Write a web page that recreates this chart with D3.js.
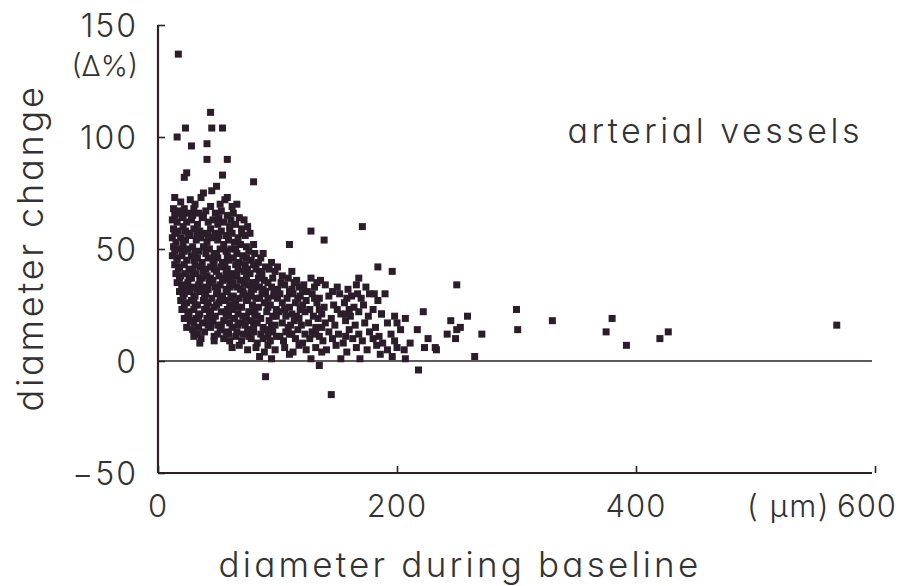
<!DOCTYPE html>
<html>
<head>
<meta charset="utf-8">
<script src="https://cdn.jsdelivr.net/npm/d3@7"></script>
<style>
  body { margin: 0; background: #fff; }
  svg text {
    font-family: Inter, "DejaVu Sans", sans-serif;
    font-feature-settings: "cv11";
    font-weight: 300;
    fill: #333;
  }
</style>
</head>
<body>
<svg id="chart" width="904" height="586"></svg>
<script>
// tick values
const xTicks = [0, 200, 400, 600];
const yTicks = [150, 100, 50, 0, -50];

// points: [baseline diameter (um), diameter change (%)]
const outliers = [
  [17,137],[44,111],[23,104],[45,104],[54,104],[16,100],[28,96],[41,97],[41,90],[58,90],
  [22,82],[24,84],[54,83],[80,80],[38,75],[45,76],[49,78],[58,73]
];

const cluster = [
  [14,73],[19,71],[27,72],[31,70],[36,73],[52,70],[56,72],[62,69],[66,70],
  [13,68],[15,66],[18,67],[22,68],[26,66],[30,68],[34,66],[40,67],[44,69],[48,66],[53,67],[58,65],[63,66],[68,64],[72,63],
  [12,63],[16,62],[20,64],[24,62],[28,63],[33,61],[37,64],[42,62],[46,63],[50,61],[55,62],[60,60],[65,61],[70,59],[75,60],
  [13,59],[17,58],[21,60],[25,57],[30,59],[35,58],[39,57],[44,59],[48,57],[53,58],[57,56],[62,57],[67,55],[73,56],[77,57],
  [12,55],[15,53],[19,55],[23,54],[27,56],[32,54],[36,55],[41,53],[45,55],[50,54],[55,52],[59,54],[64,53],[69,52],[74,51],[80,52],
  [13,51],[17,50],[21,52],[25,50],[29,51],[34,49],[38,51],[43,50],[47,48],[52,50],[57,49],[61,50],[66,48],[71,47],[76,49],[81,48],[86,46],
  [12,47],[16,46],[20,47],[24,45],[28,47],[33,46],[37,44],[42,46],[46,45],[50,46],[54,44],[59,45],[63,46],[68,44],[73,43],[78,45],[84,44],[90,42],
  [14,43],[18,42],[22,43],[26,41],[31,43],[35,42],[40,41],[44,42],[49,40],[53,42],[58,41],[62,39],[67,41],[72,40],[77,39],[82,41],[87,39],[93,41],[98,40],[104,38],
  [15,39],[19,38],[23,39],[28,37],[32,39],[37,37],[41,38],[46,36],[51,38],[55,37],[60,36],[64,38],[69,36],[74,37],[79,35],[84,37],[89,36],[96,37],[103,35],[109,37],[116,36],[122,34],[128,37],[136,36],[168,37],
  [16,35],[20,34],[25,35],[29,33],[34,34],[38,33],[43,35],[48,33],[52,34],[57,32],[61,34],[66,33],[71,31],[75,34],[80,32],[85,33],[90,31],[95,33],[100,32],[106,34],[112,32],[118,33],[125,31],[131,33],[140,34],[150,33],[159,32],[166,34],[174,33],[181,30],
  [18,31],[22,30],[27,31],[31,29],[36,31],[40,30],[45,28],[49,30],[54,29],[58,31],[63,29],[68,28],[72,30],[77,29],[82,28],[87,30],[92,28],[97,29],[102,30],[108,28],[113,30],[119,29],[124,27],[129,30],[135,28],[143,29],[152,30],[162,29],[170,28],[177,30],[184,27],
  [19,27],[24,26],[28,27],[33,25],[38,27],[42,26],[47,24],[51,26],[56,27],[60,25],[65,26],[70,24],[74,27],[79,25],[84,24],[89,26],[94,25],[99,23],[104,26],[110,24],[115,26],[121,25],[127,23],[133,26],[139,24],[147,25],[156,26],[164,24],[172,25],[180,23],
  [20,23],[25,22],[30,23],[35,21],[39,23],[44,22],[48,20],[53,22],[57,21],[62,23],[67,21],[71,20],[76,22],[81,21],[86,19],[91,22],[96,20],[101,22],[107,20],[112,21],[118,19],[123,22],[130,20],[137,21],[145,19],[153,21],[161,20],[168,22],[176,20],[187,21],
  [22,19],[27,18],[32,19],[37,17],[41,19],[46,18],[50,16],[55,18],[60,17],[64,19],[69,17],[73,16],[78,18],[83,17],[88,15],[93,18],[98,16],[104,17],[109,15],[114,18],[120,16],[126,17],[132,15],[140,17],[148,16],[157,18],[165,16],[173,17],[182,15],[192,17],
  [24,15],[29,14],[34,15],[39,13],[44,15],[52,14],[57,13],[62,15],[66,13],[71,12],[75,14],[80,13],[86,12],[91,14],[96,13],[102,11],[107,13],[112,12],[117,14],[123,12],[129,13],[135,11],[143,13],[151,12],[160,14],[168,12],[177,13],[185,11],[195,12],
  [30,11],[36,10],[47,11],[55,10],[60,9],[65,11],[70,9],[78,10],[83,8],[88,10],[94,9],[99,11],[105,9],[115,10],[121,8],[127,10],[138,9],[146,10],[155,8],[163,10],[171,9],[180,10],[188,8],[198,9],
  [35,8],[47,9],[62,6],[68,7],[75,5],[82,6],[89,4],[92,7],[98,5],[106,6],[113,4],[118,7],[124,5],[132,6],[141,5],[149,7],[158,4],[166,6],[175,5],[183,7],[192,5],[200,6],
  [85,2],[95,1],[110,3],[128,1],[137,4],[153,1],[169,1],[186,3],[196,2]
];

// extra points filling the core of the cloud
const core = [
  [14,65],[21,65],[29,65],[38,65],[51,64],[61,63],
  [14,57],[23,58],[33,56],[42,56],[51,56],[60,58],[70,57],
  [14,49],[22,49],[31,48],[40,48],[49,48],[58,47],[65,50],[74,46],[88,48],
  [16,45],[30,45],[47,43],[56,43],[65,43],[80,43],[95,44],
  [17,41],[29,40],[38,40],[47,41],[57,39],[66,39],[75,41],[85,40],[100,42],[112,40],
  [18,37],[26,37],[35,36],[44,37],[54,36],[63,35],[72,35],[82,35],[92,35],[114,35],[133,35],
  [20,33],[24,32],[33,32],[42,32],[50,32],[60,33],[69,32],[78,31],[88,32],[97,31],[110,31],[121,31],[146,31],
  [21,29],[30,28],[39,29],[52,28],[61,28],[75,28],[85,28],[100,28],[117,28],[131,28],[158,28],[167,30],
  [22,25],[31,25],[41,24],[49,25],[58,23],[67,24],[81,23],[92,24],[106,23],[119,23],[135,23],[150,23],[160,23],
  [26,20],[34,20],[43,20],[59,20],[74,19],[83,20],[99,20],[116,20],[134,19],[157,21],
  [30,17],[42,16],[53,16],[67,16],[80,15],[95,15],[111,16],[137,15],
  [33,12],[50,12],[59,12],[76,11],[92,11],[110,12],[132,12],[157,11]
];

const tail = [
  [171,60],[184,42],[196,40],[250,34],[190,30],[222,22],[245,18],[259,20],[271,12],[242,12],
  [250,14],[253,15],[249,10],[265,2],[218,-4],[226,10],[217,14],[233,5],[232,6],[223,6],
  [211,8],[206,5],[207,1],[207,19],[203,14],[198,20],[200,17],[187,21],[128,58],[139,54],
  [110,52],[90,-7],[145,-15],[135,-2],[300,23],[301,14],[330,18],[375,13],[380,19],[392,7],
  [420,10],[427,13],[568,16]
];

const points = outliers.concat(cluster, core, tail);

const svg = d3.select("#chart");
const margin = {top: 25, right: 32, bottom: 113, left: 158};
const width = 875 - margin.left;
const height = 473 - margin.top;

const x = d3.scaleLinear().domain([0, 600]).range([0, width]);
const y = d3.scaleLinear().domain([-50, 150]).range([height, 0]);

const g = svg.append("g")
    .attr("transform", "translate(" + margin.left + "," + margin.top + ")");

// axes drawn by d3, ticks pointing inward
const xAxis = g.append("g")
    .attr("transform", "translate(0," + height + ")")
    .call(d3.axisBottom(x).tickValues(xTicks).tickSize(-7).tickFormat(""));
const yAxis = g.append("g")
    .call(d3.axisLeft(y).tickValues(yTicks).tickSize(-7).tickFormat(""));

[xAxis, yAxis].forEach(a => {
  a.select(".domain").attr("stroke", "#2a2228").attr("stroke-width", 2.2);
  a.selectAll(".tick line").attr("stroke", "#2a2228").attr("stroke-width", 1.6);
});
xAxis.select(".domain").attr("d", "M0,0H" + (width - 3));
yAxis.select(".domain").attr("d", "M0," + height + "V0");

// zero line
g.append("line")
    .attr("x1", 0).attr("x2", x(600) - 3)
    .attr("y1", y(0)).attr("y2", y(0))
    .attr("stroke", "#2a2228").attr("stroke-width", 1.6);

// tick labels
g.selectAll(".ylab")
  .data(yTicks)
  .enter().append("text")
    .attr("x", -20)
    .attr("y", d => y(d))
    .attr("dy", "0.36em")
    .attr("text-anchor", "end")
    .attr("font-size", 32)
    .attr("letter-spacing", 2)
    .text(d => d < 0 ? "\u2212" + Math.abs(d) : d);

g.selectAll(".xlab")
  .data(xTicks)
  .enter().append("text")
    .attr("x", d => d === 600 ? x(d) - 8 : x(d))
    .attr("y", height + 33)
    .attr("dy", "0.36em")
    .attr("text-anchor", "middle")
    .attr("font-size", 31)
    .attr("letter-spacing", 1)
    .text(d => d);

g.append("text")
    .attr("x", x(600) - 45)
    .attr("y", height + 33)
    .attr("dy", "0.36em")
    .attr("text-anchor", "end")
    .attr("font-size", 31)
    .attr("letter-spacing", 1.5)
    .text("( \u00b5m)");

g.append("text")
    .attr("x", -20)
    .attr("y", y(132))
    .attr("dy", "0.36em")
    .attr("text-anchor", "end")
    .attr("font-size", 29)
    .text("(\u0394%)");

g.append("text")
    .attr("x", 863 - margin.left)
    .attr("y", 143 - margin.top)
    .attr("text-anchor", "end")
    .attr("font-size", 34)
    .attr("letter-spacing", 3.5)
    .text("arterial vessels");

// axis titles
svg.append("text")
    .attr("x", 460)
    .attr("y", 577)
    .attr("text-anchor", "middle")
    .attr("font-size", 35)
    .attr("letter-spacing", 3.2)
    .text("diameter during baseline");

svg.append("text")
    .attr("transform", "translate(43,248) rotate(-90)")
    .attr("text-anchor", "middle")
    .attr("font-size", 36)
    .attr("letter-spacing", 2.8)
    .text("diameter change");

// data squares
const s = 7;
g.selectAll(".pt")
  .data(points)
  .enter().append("rect")
    .attr("x", d => x(d[0]) - s / 2)
    .attr("y", d => y(d[1]) - s / 2)
    .attr("width", s)
    .attr("height", s)
    .attr("fill", "#2b1d29");
</script>
</body>
</html>
